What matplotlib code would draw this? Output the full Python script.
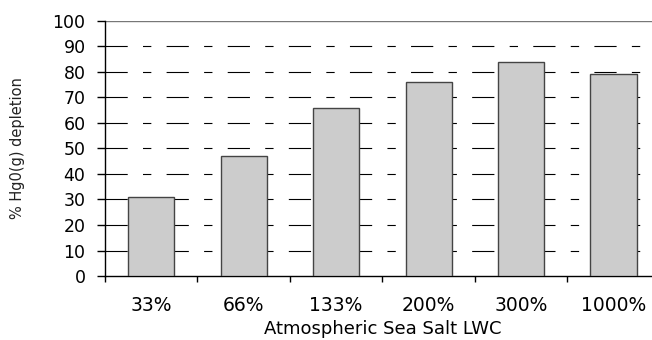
import numpy as np
import matplotlib
matplotlib.use("Agg")
import matplotlib.pyplot as plt

# Data
categories = ["33%", "66%", "133%", "200%", "300%", "1000%"]
depletion = [31, 47, 66, 76, 84, 79]

plt.rcParams['font.family'] = ['DejaVu Sans']
plt.rcParams['lines.scale_dashes'] = False

fig = plt.figure(figsize=(6.52, 3.40), dpi=100)
ax = fig.add_axes([0.161, 0.188, 0.851, 0.751])

x = np.arange(len(categories))
ax.bar(x, depletion, width=0.5, color="#cccccc", edgecolor="#444444",
       linewidth=1.0, zorder=3)

ax.set_xlim(-0.5, len(categories) - 0.5)
ax.set_ylim(0, 100)
ax.set_yticks(np.arange(0, 101, 10))

# dashed horizontal gridlines (long dash, short dash)
for yv in np.arange(10, 100, 10):
    ax.axhline(yv, color="black", linewidth=0.8, dashes=(16, 11, 6, 11),
               zorder=1)
ax.axhline(100, color="#777777", linewidth=1.0, zorder=1)

ax.set_xticks(x)
ax.set_xticklabels(categories, fontsize=13.5)
ax.set_xticks(np.arange(-0.5, len(categories), 1), minor=True)
ax.tick_params(axis="x", which="major", length=0, pad=14)
ax.tick_params(axis="x", which="minor", length=4, width=1)
ax.tick_params(axis="y", length=6, width=1, labelsize=12.5, pad=8)

for s in ["top", "right"]:
    ax.spines[s].set_visible(False)
ax.spines["left"].set_linewidth(1)
ax.spines["bottom"].set_linewidth(1)

ax.set_xlabel("Atmospheric Sea Salt LWC", fontsize=13, labelpad=4)
ax.set_ylabel("% Hg0(g) depletion", fontsize=10.5, labelpad=20,
              color="#222222")

fig.savefig("out.png", dpi=100)
